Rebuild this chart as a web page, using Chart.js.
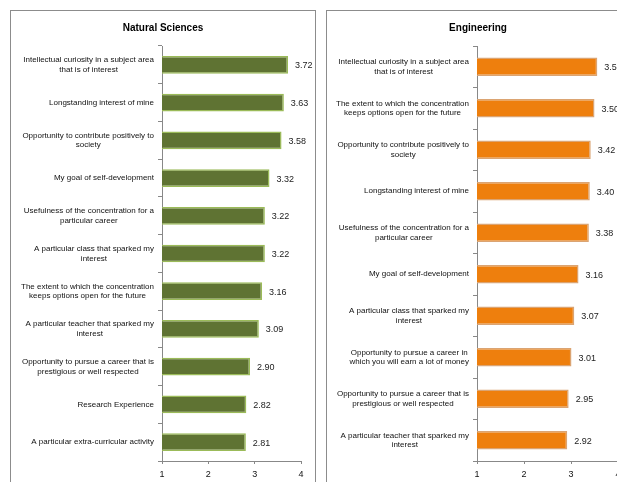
<!DOCTYPE html>
<html>
<head>
<meta charset="utf-8">
<script src="https://cdn.jsdelivr.net/npm/chart.js@4.4.0/dist/chart.umd.min.js"></script>
<style>
  body { margin: 0; background: #fff; width: 617px; height: 482px; overflow: hidden; position: relative; }
  .panel { position: absolute; top: 10px; height: 490px; border: 1px solid #8c8c8c; background: #fff; }
  #p1 { left: 10px; width: 304px; }
  #p2 { left: 326px; width: 302px; }
  canvas { display: block; }
</style>
</head>
<body>
<div class="panel" id="p1"><canvas id="sci" width="304" height="470"></canvas></div>
<div class="panel" id="p2"><canvas id="eng" width="302" height="470"></canvas></div>
<script>
// Natural Sciences
const sciLabels = [
  ["Intellectual curiosity in a subject area", "that is of interest"],
  "Longstanding interest of mine",
  ["Opportunity to contribute positively to", "society"],
  "My goal of self-development",
  ["Usefulness of the concentration for a", "particular career"],
  ["A particular class that sparked my", "interest"],
  ["The extent to which the concentration", "keeps options open for the future"],
  ["A particular teacher that sparked my", "interest"],
  ["Opportunity to pursue a career that is", "prestigious or well respected"],
  "Research Experience",
  "A particular extra-curricular activity"
];
const sciValues = [3.72, 3.63, 3.58, 3.32, 3.22, 3.22, 3.16, 3.09, 2.90, 2.82, 2.81];

// Engineering
const engLabels = [
  ["Intellectual curiosity in a subject area", "that is of interest"],
  ["The extent to which the concentration", "keeps options open for the future"],
  ["Opportunity to contribute positively to", "society"],
  "Longstanding interest of mine",
  ["Usefulness of the concentration for a", "particular career"],
  "My goal of self-development",
  ["A particular class that sparked my", "interest"],
  ["Opportunity to pursue a career in", "which you will earn a lot of money"],
  ["Opportunity to pursue a career that is", "prestigious or well respected"],
  ["A particular teacher that sparked my", "interest"]
];
const engValues = [3.56, 3.50, 3.42, 3.40, 3.38, 3.16, 3.07, 3.01, 2.95, 2.92];

const xTicks = [1, 2, 3, 4];

const FONT = "'Liberation Sans', Arial, sans-serif";

// value to the right of each bar
const valueLabels = {
  id: "valueLabels",
  afterDatasetsDraw(chart) {
    const ctx = chart.ctx;
    const meta = chart.getDatasetMeta(0);
    ctx.save();
    ctx.font = "9px " + FONT;
    ctx.fillStyle = "#222";
    ctx.textBaseline = "middle";
    meta.data.forEach((bar, i) => {
      ctx.fillText(chart.data.datasets[0].data[i].toFixed(2), bar.x + 7, bar.y + 1);
    });
    ctx.restore();
  }
};

// category labels: block right-aligned to the axis, lines centred within it (like Excel)
const catLabels = {
  id: "catLabels",
  afterDraw(chart) {
    const ctx = chart.ctx;
    const y = chart.scales.y;
    const right = y.right - 8;
    const lh = 9.6;
    ctx.save();
    ctx.font = "8px " + FONT;
    ctx.fillStyle = "#111";
    ctx.textAlign = "center";
    ctx.textBaseline = "middle";
    chart.data.labels.forEach((lab, i) => {
      const lines = Array.isArray(lab) ? lab : [lab];
      const w = Math.max(...lines.map(l => ctx.measureText(l).width));
      const cx = right - w / 2;
      const cy = y.getPixelForValue(i);
      lines.forEach((l, j) => {
        ctx.fillText(l, cx, cy + (j - (lines.length - 1) / 2) * lh);
      });
    });
    ctx.restore();
  }
};

function makeChart(id, title, labels, values, fill, border, yWidth, pad, barPct) {
  return new Chart(document.getElementById(id), {
    type: "bar",
    data: {
      labels: labels,
      datasets: [{
        data: values,
        backgroundColor: fill,
        borderColor: border,
        borderWidth: 1.5,
        barPercentage: barPct,
        categoryPercentage: 1
      }]
    },
    options: {
      indexAxis: "y",
      responsive: false,
      animation: false,
      layout: { padding: { left: pad, right: pad, bottom: 0 } },
      plugins: {
        legend: { display: false },
        tooltip: { enabled: false },
        title: {
          display: true,
          text: title,
          color: "#000",
          font: { family: FONT, size: 10, weight: "bold" },
          padding: { top: 11, bottom: 12 }
        }
      },
      scales: {
        y: {
          grid: { drawOnChartArea: false, tickLength: 4, color: "#888", offset: true },
          border: { color: "#888" },
          ticks: { display: false },
          afterFit(scale) { scale.width = yWidth; }
        },
        x: {
          min: 1,
          max: 4,
          afterBuildTicks(scale) { scale.ticks = xTicks.map(v => ({ value: v })); },
          grid: { drawOnChartArea: false, tickLength: 3, color: "#888" },
          border: { color: "#888" },
          ticks: { color: "#111", font: { family: FONT, size: 9 }, padding: 5 },
          afterFit(scale) { scale.height = 20; }
        }
      }
    },
    plugins: [valueLabels, catLabels]
  });
}

makeChart("sci", "Natural Sciences", sciLabels, sciValues, "#5f7333", "#9bbb59", 137, 14, 0.47);
makeChart("eng", "Engineering", engLabels, engValues, "#ee7f0d", "#dba472", 139, 11, 0.44);
</script>
</body>
</html>
